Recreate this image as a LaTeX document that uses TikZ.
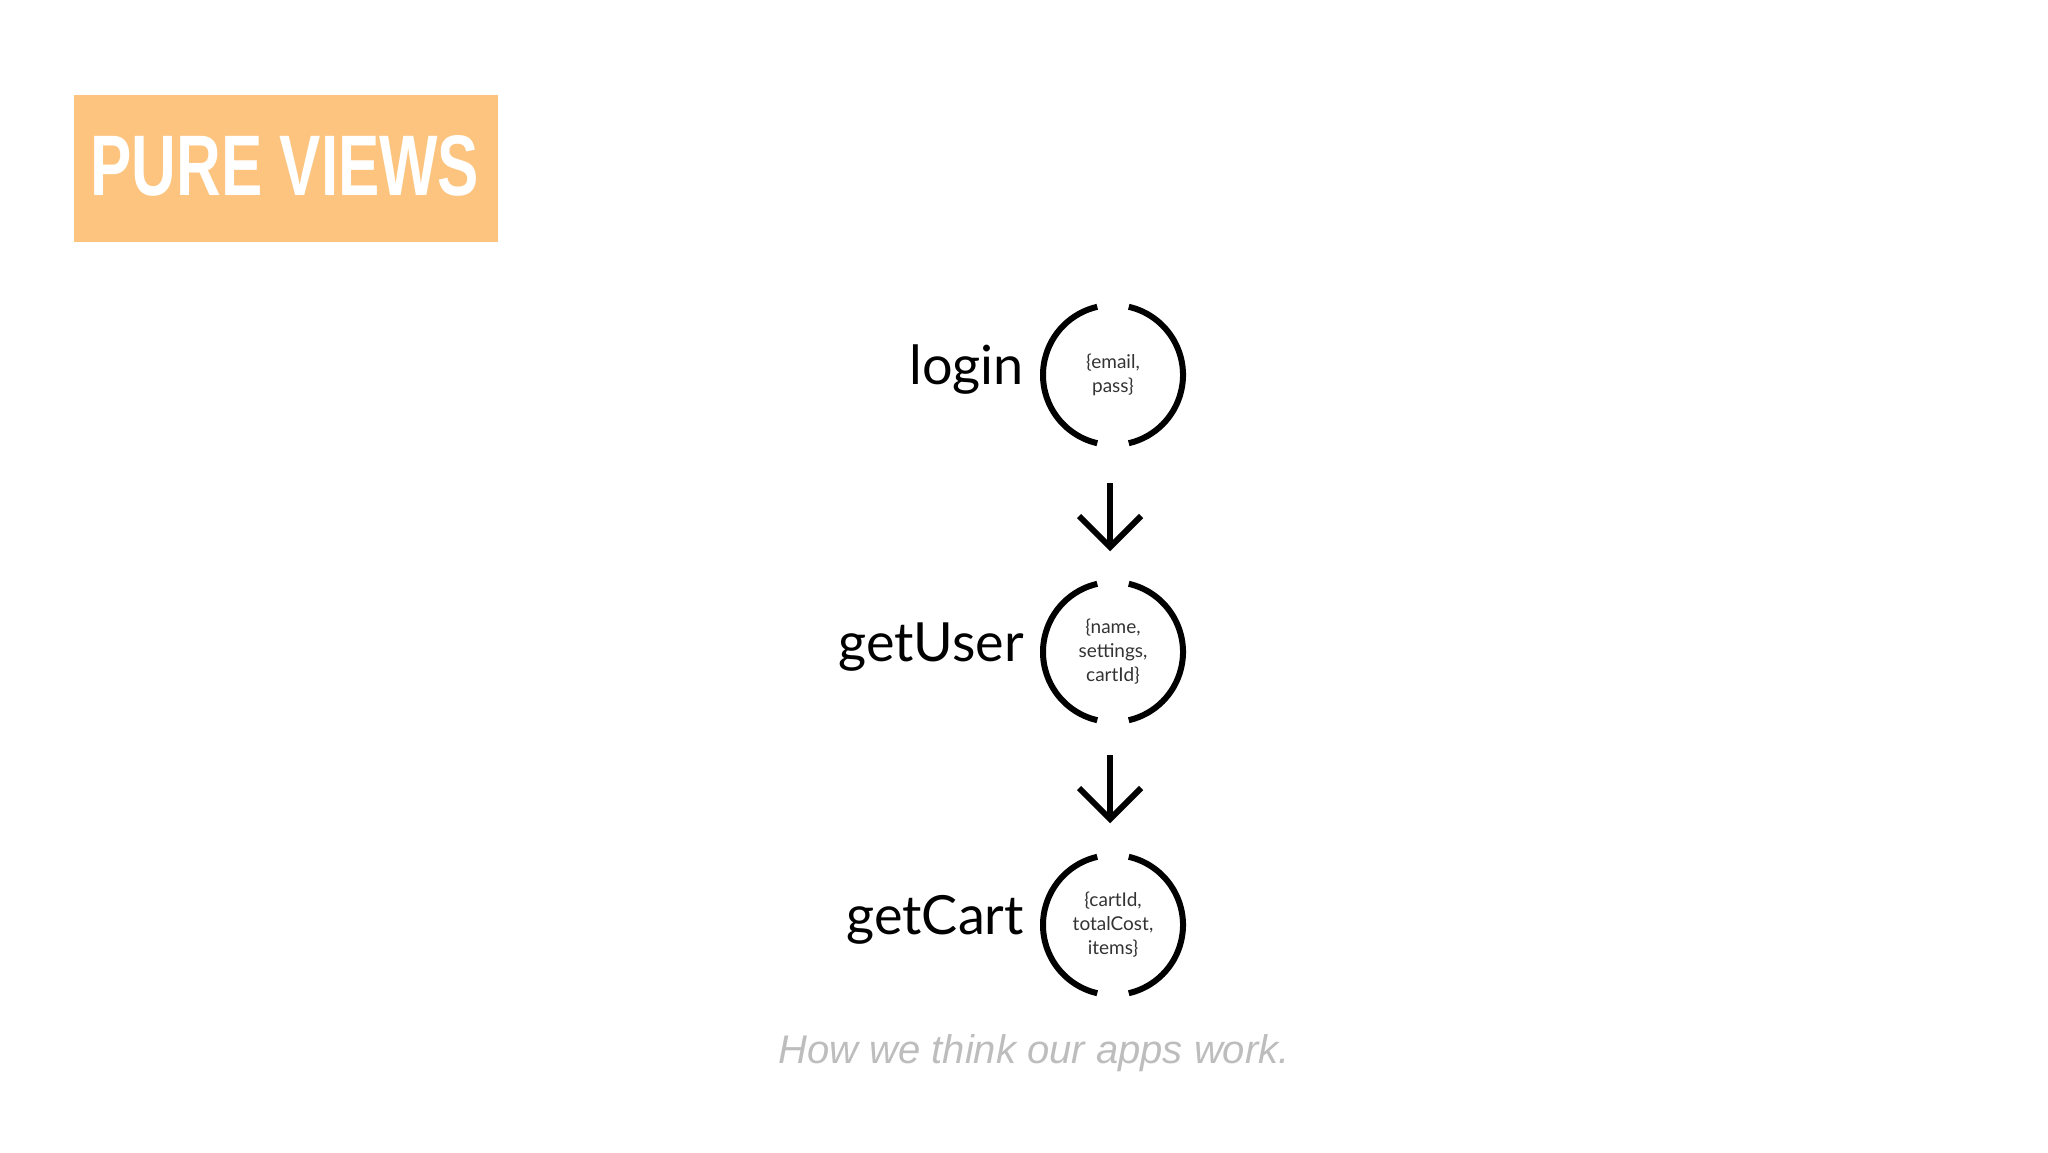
\documentclass[tikz,border=0pt]{standalone}
\usetikzlibrary{calc}
\usepackage{fontspec}
\setmainfont{Lato}
\newfontfamily\capfont{Liberation Sans}
\definecolor{boxorange}{HTML}{FCC47E}
\definecolor{capgray}{HTML}{BDBDBD}
\tikzset{
  ring/.style={line width=6pt,black},
  lbl/.style={anchor=east,font=\fontsize{54}{60}\selectfont,inner sep=0pt},
  inner/.style={align=center,font=\fontsize{19}{24}\selectfont,text=black!80},
  arr/.style={line width=6pt,black}
}
\begin{document}
\begin{tikzpicture}[x=1pt,y=-1pt]
\useasboundingbox (0,0) rectangle (2048,1152);
\fill[boxorange] (74,95) rectangle (498,242);
\node[text=white,font=\fontsize{86}{90}\bfseries\capfont,xscale=0.72,anchor=west] (title) at (88,166) {PURE VIEWS};
\foreach \n/\y/\l/\t in {c1/375/login/{\{email,\\pass\}},c2/652/getUser/{\{name,\\settings,\\cartId\}},c3/925/getCart/{\{cartId,\\totalCost,\\items\}}}{
  \node[inner] (\n) at (1113,\y) {\t};
  \draw[ring] (1113,\y) ++(103:70) arc[start angle=103,end angle=257,radius=70];
  \draw[ring] (1113,\y) ++(-77:70) arc[start angle=-77,end angle=77,radius=70];
  \node[lbl] (\n l) at (1024,\y-5) {\l};
}
\coordinate (a1s) at (1110,483); \coordinate (a1e) at (1110,547);
\coordinate (a2s) at (1110,755); \coordinate (a2e) at (1110,819);
\foreach \s/\e in {a1s/a1e,a2s/a2e}{
  \draw[arr] (\s) -- (\e);
  \draw[arr,line join=miter] ($(\e)+(-31,-31)$) -- (\e) -- ($(\e)+(31,-31)$);
}
\node[text=capgray,font=\fontsize{40}{44}\itshape\capfont] (cap) at (1034,1053) {How we think our apps work.};
\end{tikzpicture}
\end{document}
